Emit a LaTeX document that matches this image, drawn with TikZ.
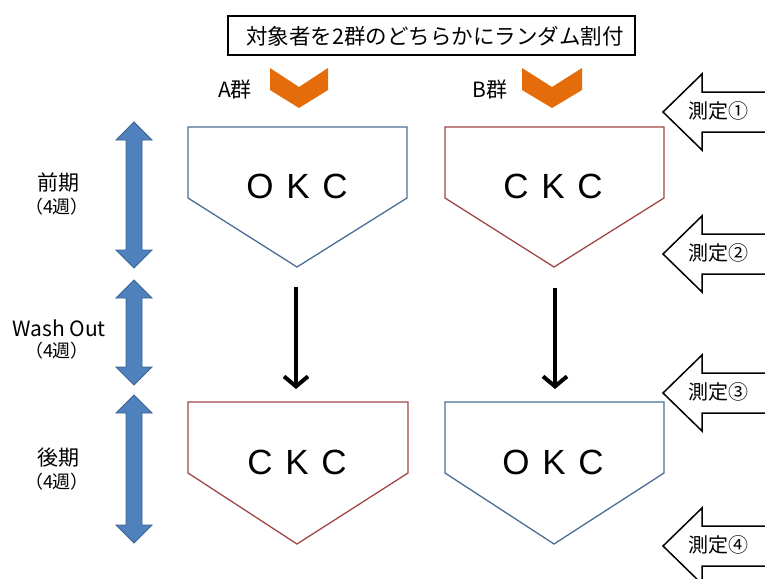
\documentclass[tikz,border=0pt]{standalone}
\usepackage{fontspec}
\newfontfamily\jp{Noto Sans CJK JP}
\newfontfamily\lat{Liberation Sans}
\usetikzlibrary{arrows.meta}
\definecolor{chev}{HTML}{E46C0A}
\definecolor{dblfill}{HTML}{4F81BD}
\definecolor{dbldraw}{HTML}{3A6494}
\definecolor{okcblue}{HTML}{4C6E96}
\definecolor{ckcred}{HTML}{A04848}
\tikzset{
  titlebox/.style={draw=black,line width=1.5pt},
  chevshape/.style={fill=chev,draw=none},
  pent/.style={line width=1.3pt,fill=white},
  drugtxt/.style={font=\lat\fontsize{35}{37}\selectfont},
  grouptxt/.style={font=\jp\fontsize{21}{23}\selectfont},
  phasetxt/.style={font=\jp\fontsize{21}{23}\selectfont},
  weektxt/.style={font=\jp\fontsize{18}{20}\selectfont},
  dblarrow/.style={fill=dblfill,draw=dbldraw,line width=0.8pt},
  measarrow/.style={fill=white,draw=black,line width=1.5pt},
  meastxt/.style={font=\jp\fontsize{20}{22}\selectfont},
  flow/.style={line width=4pt,-{Straight Barb[length=10pt,width=24pt]}}
}
\newcommand{\gapsp}{\hspace{0.36em}}
\begin{document}
\begin{tikzpicture}[x=1pt,y=-1pt]
\useasboundingbox (0,0) rectangle (765,578);
\clip (0,0) rectangle (765,578);
\fill[white] (0,0) rectangle (765,578);

% title
\draw[titlebox] (228,16) rectangle (635,55);
\node[font=\jp\fontsize{21.5}{24}\selectfont] (title) at (435,36) {対象者を2群のどちらかにランダム割付};

% group labels and chevrons
\node[grouptxt] (gA) at (235,90) {A群};
\node[grouptxt] (gB) at (490,90) {B群};
\fill[chevshape] (270,68) -- (299,87) -- (328,68) -- (328,90) -- (299,108) -- (270,90) -- cycle;
\fill[chevshape] (522,68) -- (552,87) -- (582,68) -- (582,90) -- (552,108) -- (522,90) -- cycle;

% pentagons
\draw[pent,draw=okcblue] (188,127) -- (407,127) -- (407,198) -- (297,267) -- (188,198) -- cycle;
\draw[pent,draw=ckcred] (445,127) -- (664,127) -- (664,198) -- (554,267) -- (445,198) -- cycle;
\draw[pent,draw=ckcred] (188,402) -- (408,402) -- (408,473) -- (297,544) -- (188,473) -- cycle;
\draw[pent,draw=okcblue] (445,402) -- (664,402) -- (664,473) -- (554,544) -- (445,473) -- cycle;
\node[drugtxt] (a1) at (297,186) {O\gapsp K\gapsp C};
\node[drugtxt] (b1) at (553,186) {C\gapsp K\gapsp C};
\node[drugtxt] (a2) at (297,462) {C\gapsp K\gapsp C};
\node[drugtxt] (b2) at (553,462) {O\gapsp K\gapsp C};

% flow arrows
\coordinate (aS) at (296,287);
\coordinate (aE) at (296,389);
\coordinate (bS) at (555,288);
\coordinate (bE) at (555,389);
\draw[flow] (aS) -- (aE);
\draw[flow] (bS) -- (bE);

% double arrows on left
\foreach \t/\b in {122/268, 280/385, 395/543}{
  \draw[dblarrow] (134,\t) -- (152,\t+18) -- (142,\t+18) -- (142,\b-18) -- (152,\b-18) -- (134,\b)
     -- (116,\b-18) -- (126,\b-18) -- (126,\t+18) -- (116,\t+18) -- cycle;
}
\node[phasetxt] (p1) at (58,183) {前期};
\node[weektxt] (w1) at (57,207) {（4週）};
\node[phasetxt] (p2) at (59,328) {Wash Out};
\node[weektxt] (w2) at (57,351) {（4週）};
\node[phasetxt] (p3) at (58,458) {後期};
\node[weektxt] (w3) at (57,482) {（4週）};

% measurement arrows
\foreach \c/\lab/\nm in {112/①/m1, 254/②/m2, 393/③/m3, 546/④/m4}{
  \draw[measarrow] (663,\c) -- (702,\c-38) -- (702,\c-20) -- (775,\c-20) -- (775,\c+20)
     -- (702,\c+20) -- (702,\c+38) -- cycle;
  \node[meastxt] (\nm) at (718,\c-1) {測定\lab};
}
\end{tikzpicture}
\end{document}
